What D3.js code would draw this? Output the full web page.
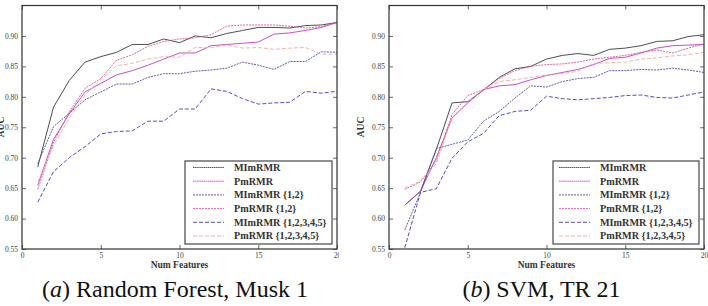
<!DOCTYPE html>
<html>
<head>
<meta charset="utf-8">
<script src="https://cdn.jsdelivr.net/npm/d3@7"></script>
<style>
  body { margin: 0; background: #fff; }
  svg { display: block; }
  text { font-family: "Liberation Serif", "DejaVu Serif", serif; }
</style>
</head>
<body>
<div id="chart"></div>
<script>
// number of selected features, 1..20
var numFeatures = d3.range(1, 21);

var seriesNames = ['MImRMR', 'PmRMR', 'MImRMR {1,2}', 'PmRMR {1,2}', 'MImRMR {1,2,3,4,5}', 'PmRMR {1,2,3,4,5}'];

var yTicks = [0.55, 0.60, 0.65, 0.70, 0.75, 0.80, 0.85, 0.90];
var xTicks = [0, 5, 10, 15, 20];

// (a) Random Forest, Musk 1
var rfMImRMR   = [0.685,0.783,0.827,0.857,0.866,0.873,0.886,0.886,0.895,0.889,0.900,0.897,0.904,0.909,0.914,0.914,0.913,0.917,0.918,0.922];
var rfPmRMR    = [0.655,0.730,0.772,0.808,0.822,0.836,0.843,0.852,0.862,0.872,0.872,0.884,0.886,0.888,0.890,0.903,0.905,0.909,0.914,0.922];
var rfMI12     = [0.690,0.751,0.773,0.795,0.808,0.821,0.821,0.832,0.838,0.838,0.842,0.844,0.847,0.857,0.852,0.845,0.858,0.858,0.874,0.873];
var rfP12      = [0.648,0.725,0.775,0.814,0.830,0.860,0.869,0.883,0.891,0.895,0.897,0.902,0.916,0.918,0.918,0.918,0.916,0.913,0.915,0.923];
var rfMI12345  = [0.627,0.677,0.700,0.718,0.739,0.743,0.744,0.760,0.760,0.780,0.780,0.813,0.809,0.797,0.788,0.790,0.791,0.809,0.806,0.809];
var rfP12345   = [0.660,0.720,0.765,0.803,0.828,0.851,0.855,0.862,0.866,0.865,0.881,0.881,0.885,0.880,0.881,0.878,0.880,0.881,0.870,0.870];

// (b) SVM, TR 21
var svmMImRMR  = [0.622,0.645,0.713,0.790,0.792,0.811,0.832,0.846,0.850,0.862,0.868,0.871,0.868,0.878,0.880,0.884,0.891,0.892,0.899,0.902];
var svmPmRMR   = [0.622,0.645,0.700,0.765,0.790,0.812,0.818,0.820,0.828,0.835,0.840,0.845,0.853,0.863,0.865,0.872,0.880,0.884,0.885,0.886];
var svmMI12    = [0.581,0.643,0.715,0.722,0.729,0.760,0.776,0.798,0.818,0.816,0.825,0.830,0.832,0.843,0.843,0.845,0.844,0.847,0.844,0.840];
var svmP12     = [0.648,0.660,0.695,0.771,0.802,0.812,0.830,0.843,0.850,0.853,0.854,0.857,0.862,0.865,0.868,0.873,0.877,0.872,0.880,0.887];
var svmMI12345 = [0.552,0.643,0.649,0.699,0.726,0.740,0.769,0.776,0.778,0.801,0.797,0.795,0.797,0.799,0.802,0.803,0.799,0.798,0.803,0.808];
var svmP12345  = [0.650,0.662,0.690,0.766,0.792,0.812,0.825,0.828,0.832,0.836,0.838,0.842,0.855,0.856,0.857,0.862,0.864,0.867,0.869,0.873];

// line styles, same order as seriesNames
var colors = ['#3a3a3a', '#c23cc8', '#4b4ba6', '#e2548c', '#3c3cb4', '#f2aaa2'];
var dashes = [null, null, '2,1', '2,1', '4,2', '4,2'];

var W = 708, H = 306;
var svg = d3.select('#chart').append('svg').attr('width', W).attr('height', H);

function drawPanel(opt) {
  var g = svg.append('g');
  if (opt.clipW) {
    svg.append('clipPath').attr('id', opt.id + 'outer')
      .append('rect').attr('x', 0).attr('y', 0).attr('width', opt.clipW).attr('height', H);
    g.attr('clip-path', 'url(#' + opt.id + 'outer)');
  }

  var x = d3.scaleLinear().domain([0, 20]).range([opt.left, opt.right]);
  var y = d3.scaleLinear().domain([0.55, 0.95]).range([opt.bottom, opt.top]);

  svg.append('clipPath').attr('id', opt.id + 'plot')
    .append('rect').attr('x', opt.left).attr('y', opt.top)
    .attr('width', opt.right - opt.left).attr('height', opt.bottom - opt.top);

  // ticks on all four sides, pointing inwards
  var axB = g.append('g').attr('transform', 'translate(0,' + opt.bottom + ')')
    .call(d3.axisBottom(x).tickValues(xTicks).tickSizeInner(-4).tickSizeOuter(0).tickPadding(4).tickFormat(d3.format('d')));
  var axT = g.append('g').attr('transform', 'translate(0,' + opt.top + ')')
    .call(d3.axisTop(x).tickValues(xTicks).tickSizeInner(-4).tickSizeOuter(0).tickFormat(''));
  var axL = g.append('g').attr('transform', 'translate(' + opt.left + ',0)')
    .call(d3.axisLeft(y).tickValues(yTicks).tickSizeInner(-4).tickSizeOuter(0).tickPadding(4).tickFormat(d3.format('.2f')));
  var axR = g.append('g').attr('transform', 'translate(' + opt.right + ',0)')
    .call(d3.axisRight(y).tickValues(yTicks).tickSizeInner(-4).tickSizeOuter(0).tickFormat(''));

  [axB, axT, axL, axR].forEach(function(a) {
    a.select('.domain').remove();
    a.selectAll('.tick line').attr('stroke', '#444').attr('stroke-width', 0.8);
    a.selectAll('text').attr('font-size', 7.5).attr('fill', '#444')
      .style('font-family', '"Liberation Serif", serif');
  });

  var line = d3.line()
    .x(function(d, i) { return x(numFeatures[i]); })
    .y(function(d) { return y(d); });

  g.append('g').attr('clip-path', 'url(#' + opt.id + 'plot)')
    .selectAll('path').data(opt.series).enter().append('path')
    .attr('d', function(d) { return line(d); })
    .attr('fill', 'none')
    .attr('stroke', function(d, i) { return colors[i]; })
    .attr('stroke-width', 0.9)
    .attr('stroke-dasharray', function(d, i) { return dashes[i]; });

  // frame
  g.append('rect').attr('x', opt.left).attr('y', opt.top)
    .attr('width', opt.right - opt.left).attr('height', opt.bottom - opt.top)
    .attr('fill', 'none').attr('stroke', '#333').attr('stroke-width', 1.2);

  // legend
  var lg = g.append('g');
  lg.append('rect').attr('x', opt.legX).attr('y', 161).attr('width', opt.legW).attr('height', 83)
    .attr('fill', '#fff').attr('stroke', '#555').attr('stroke-width', 1.3);
  seriesNames.forEach(function(name, i) {
    var ly = 167.5 + i * 13.7;
    lg.append('line').attr('x1', opt.legX + opt.legPad).attr('x2', opt.legX + opt.legPad + 31)
      .attr('y1', ly).attr('y2', ly)
      .attr('stroke', colors[i]).attr('stroke-width', 0.9)
      .attr('stroke-dasharray', i < 2 ? '1.5,0.6' : dashes[i]);
    lg.append('text').attr('x', opt.legX + opt.legPad + 41).attr('y', ly + 3.4)
      .attr('font-size', 10.2).attr('font-weight', 'bold').attr('fill', '#333')
      .text(name);
  });

  // axis labels
  g.append('text').attr('x', (opt.left + opt.right) / 2 + 0).attr('y', 268)
    .attr('text-anchor', 'middle').attr('font-size', 9.5).attr('font-weight', 'bold').attr('fill', '#333')
    .text('Num Features');
  g.append('text').attr('transform', 'translate(' + opt.yLabX + ',127) rotate(-90)')
    .attr('text-anchor', 'middle').attr('font-size', 9.5).attr('font-weight', 'bold').attr('fill', '#333')
    .text('AUC');

  // caption
  var cap = g.append('text').attr('x', opt.capX).attr('y', 297)
    .attr('text-anchor', 'middle').attr('font-size', 24).attr('fill', '#111');
  cap.append('tspan').text('(');
  cap.append('tspan').attr('font-style', 'italic').text(opt.capLetter);
  cap.append('tspan').text(') ' + opt.caption);
}

drawPanel({
  id: 'rf', left: 22, right: 337, top: 5.5, bottom: 249, clipW: 339,
  legX: 185, legW: 147, legPad: 8, yLabX: 4, capX: 175,
  capLetter: 'a', caption: 'Random Forest, Musk 1',
  series: [rfMImRMR, rfPmRMR, rfMI12, rfP12, rfMI12345, rfP12345]
});

drawPanel({
  id: 'svm', left: 389, right: 704, top: 5.5, bottom: 249,
  legX: 553, legW: 146, legPad: 6, yLabX: 364, capX: 541.5,
  capLetter: 'b', caption: 'SVM, TR 21',
  series: [svmMImRMR, svmPmRMR, svmMI12, svmP12, svmMI12345, svmP12345]
});
</script>
</body>
</html>
